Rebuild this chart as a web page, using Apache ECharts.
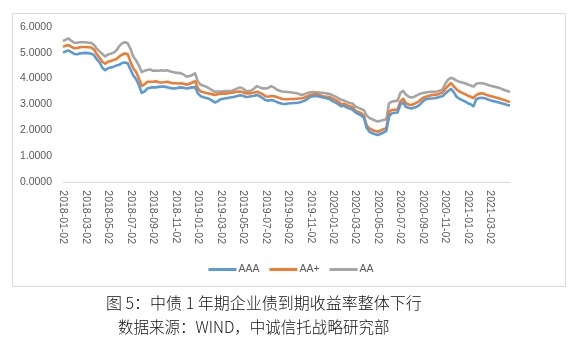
<!DOCTYPE html>
<html>
<head>
<meta charset="utf-8">
<script src="https://cdn.jsdelivr.net/npm/echarts@6/dist/echarts.min.js"></script>
<style>
html,body{margin:0;padding:0;background:#fff;}
#c{width:582px;height:356px;}
</style>
</head>
<body>
<div id="c"></div>
<script>
const categories = [
'2018-01-02','2018-01-09','2018-01-16','2018-01-23',
'2018-02-02','2018-02-09','2018-02-16','2018-02-23',
'2018-03-02','2018-03-09','2018-03-16','2018-03-23',
'2018-04-02','2018-04-09','2018-04-16','2018-04-23',
'2018-05-02','2018-05-09','2018-05-16','2018-05-23',
'2018-06-02','2018-06-09','2018-06-16','2018-06-23',
'2018-07-02','2018-07-09','2018-07-16','2018-07-23',
'2018-08-02','2018-08-09','2018-08-16','2018-08-23',
'2018-09-02','2018-09-09','2018-09-16','2018-09-23',
'2018-10-02','2018-10-09','2018-10-16','2018-10-23',
'2018-11-02','2018-11-09','2018-11-16','2018-11-23',
'2018-12-02','2018-12-09','2018-12-16','2018-12-23',
'2019-01-02','2019-01-09','2019-01-16','2019-01-23',
'2019-02-02','2019-02-09','2019-02-16','2019-02-23',
'2019-03-02','2019-03-09','2019-03-16','2019-03-23',
'2019-04-02','2019-04-09','2019-04-16','2019-04-23',
'2019-05-02','2019-05-09','2019-05-16','2019-05-23',
'2019-06-02','2019-06-09','2019-06-16','2019-06-23',
'2019-07-02','2019-07-09','2019-07-16','2019-07-23',
'2019-08-02','2019-08-09','2019-08-16','2019-08-23',
'2019-09-02','2019-09-09','2019-09-16','2019-09-23',
'2019-10-02','2019-10-09','2019-10-16','2019-10-23',
'2019-11-02','2019-11-09','2019-11-16','2019-11-23',
'2019-12-02','2019-12-09','2019-12-16','2019-12-23',
'2020-01-02','2020-01-09','2020-01-16','2020-01-23',
'2020-02-02','2020-02-09','2020-02-16','2020-02-23',
'2020-03-02','2020-03-09','2020-03-16','2020-03-23',
'2020-04-02','2020-04-09','2020-04-16','2020-04-23',
'2020-05-02','2020-05-09','2020-05-16','2020-05-23',
'2020-06-02','2020-06-09','2020-06-16','2020-06-23',
'2020-07-02','2020-07-09','2020-07-16','2020-07-23',
'2020-08-02','2020-08-09','2020-08-16','2020-08-23',
'2020-09-02','2020-09-09','2020-09-16','2020-09-23',
'2020-10-02','2020-10-09','2020-10-16','2020-10-23',
'2020-11-02','2020-11-09','2020-11-16','2020-11-23',
'2020-12-02','2020-12-09','2020-12-16','2020-12-23',
'2021-01-02','2021-01-09','2021-01-16','2021-01-23',
'2021-02-02','2021-02-09','2021-02-16','2021-02-23',
'2021-03-02','2021-03-09','2021-03-16','2021-03-23',
'2021-04-02','2021-04-09','2021-04-16','2021-04-20'
];

const seriesNames = ['AAA', 'AA+', 'AA'];

const AAA = [
5.00,5.05,5.08,5.02, 4.95,4.94,4.97,4.98, 4.99,4.98,4.96,4.90, 4.75,4.62,4.42,4.32,
4.40,4.43,4.46,4.50, 4.53,4.60,4.62,4.59, 4.35,4.12,3.98,3.75, 3.45,3.50,3.62,3.65,
3.66,3.66,3.68,3.69, 3.69,3.67,3.64,3.62, 3.62,3.65,3.66,3.64, 3.62,3.64,3.66,3.67,
3.43,3.32,3.28,3.25, 3.22,3.15,3.08,3.12, 3.20,3.22,3.24,3.26, 3.28,3.30,3.33,3.36,
3.34,3.29,3.30,3.32, 3.34,3.37,3.32,3.25, 3.17,3.15,3.17,3.15, 3.10,3.06,3.03,3.02,
3.04,3.05,3.06,3.06, 3.08,3.11,3.15,3.22, 3.30,3.32,3.33,3.31, 3.28,3.26,3.23,3.20,
3.12,3.07,3.00,2.93, 2.95,2.88,2.84,2.80, 2.70,2.64,2.58,2.50, 2.10,1.95,1.89,1.85,
1.82,1.87,1.92,1.98, 2.55,2.66,2.68,2.69, 3.00,3.08,2.90,2.87, 2.85,2.88,2.92,3.00,
3.12,3.20,3.22,3.23, 3.24,3.26,3.30,3.32, 3.42,3.52,3.60,3.48, 3.30,3.22,3.17,3.12,
3.05,3.01,2.93,3.20, 3.25,3.26,3.24,3.20, 3.16,3.13,3.11,3.08, 3.05,3.02,2.98,2.96
];

const AAplus = [
5.22,5.27,5.29,5.22, 5.17,5.18,5.21,5.22, 5.22,5.21,5.20,5.12, 4.95,4.80,4.65,4.57,
4.65,4.68,4.72,4.75, 4.85,4.92,4.97,4.95, 4.65,4.40,4.25,4.00, 3.72,3.78,3.88,3.88,
3.88,3.90,3.86,3.85, 3.86,3.88,3.85,3.82, 3.82,3.81,3.82,3.80, 3.76,3.80,3.85,3.90,
3.62,3.50,3.47,3.44, 3.42,3.40,3.37,3.40, 3.42,3.43,3.42,3.44, 3.45,3.47,3.49,3.50,
3.47,3.43,3.43,3.44, 3.46,3.49,3.45,3.40, 3.32,3.30,3.33,3.32, 3.29,3.25,3.21,3.20,
3.20,3.21,3.21,3.22, 3.23,3.24,3.27,3.32, 3.37,3.39,3.40,3.38, 3.33,3.31,3.30,3.28,
3.22,3.17,3.10,3.02, 3.03,2.97,2.93,2.90, 2.76,2.71,2.67,2.58, 2.20,2.08,2.02,1.98,
1.95,2.00,2.05,2.08, 2.72,2.79,2.80,2.81, 3.12,3.22,3.05,3.00, 2.98,3.03,3.08,3.16,
3.25,3.30,3.33,3.36, 3.37,3.38,3.42,3.45, 3.60,3.72,3.82,3.70, 3.58,3.50,3.45,3.40,
3.34,3.30,3.25,3.36, 3.42,3.43,3.40,3.36, 3.33,3.30,3.27,3.24, 3.20,3.17,3.13,3.10
];

const AA = [
5.45,5.50,5.55,5.45, 5.38,5.38,5.40,5.40, 5.40,5.38,5.38,5.30, 5.15,5.05,4.95,4.85,
4.93,4.96,5.00,5.08, 5.25,5.36,5.40,5.36, 5.15,4.85,4.70,4.50, 4.25,4.30,4.33,4.35,
4.30,4.31,4.30,4.32, 4.30,4.32,4.28,4.25, 4.23,4.22,4.20,4.15, 4.07,4.10,4.14,4.20,
3.88,3.76,3.72,3.68, 3.62,3.55,3.49,3.50, 3.50,3.51,3.52,3.52, 3.53,3.57,3.62,3.66,
3.62,3.53,3.52,3.54, 3.62,3.71,3.66,3.62, 3.62,3.64,3.71,3.66, 3.58,3.53,3.50,3.49,
3.48,3.47,3.45,3.44, 3.40,3.37,3.40,3.45, 3.47,3.48,3.47,3.46, 3.45,3.44,3.42,3.40,
3.35,3.30,3.24,3.18, 3.15,3.10,3.06,3.04, 2.92,2.88,2.83,2.78, 2.58,2.48,2.43,2.38,
2.34,2.37,2.40,2.43, 3.05,3.11,3.13,3.15, 3.45,3.53,3.38,3.30, 3.27,3.30,3.36,3.41,
3.44,3.46,3.48,3.49, 3.49,3.50,3.53,3.58, 3.80,3.96,4.03,3.99, 3.92,3.88,3.85,3.82,
3.77,3.73,3.69,3.80, 3.82,3.82,3.80,3.76, 3.72,3.70,3.67,3.65, 3.60,3.56,3.52,3.48
];

const yTicks = [0, 1, 2, 3, 4, 5, 6];
const captionTitle = '图 5：中债 1 年期企业债到期收益率整体下行';
const captionSource = '数据来源：WIND，中诚信托战略研究部';

const colors = ['#5B9BD5', '#ED7D31', '#A5A5A5'];
const seriesData = [AAA, AAplus, AA];

const chart = echarts.init(document.getElementById('c'), null, {renderer: 'canvas'});
const labelFont = 'Liberation Sans';

chart.setOption({
  animation: false,
  backgroundColor: '#ffffff',
  color: colors,
  grid: {left: 63, right: 72, top: 26.7, bottom: 173.7, containLabel: false},
  xAxis: {
    type: 'category',
    data: categories,
    boundaryGap: false,
    axisLine: {show: true, lineStyle: {color: '#d9d9d9', width: 1}},
    axisTick: {show: false},
    splitLine: {show: false},
    axisLabel: {
      rotate: -90,
      margin: 8,
      color: '#595959',
      fontSize: 10.5,
      fontFamily: labelFont,
      interval: function (index, value) {
        const parts = value.split('-');
        return parts[2] === '02' && (parseInt(parts[1], 10) % 2 === 1);
      }
    }
  },
  yAxis: {
    type: 'value',
    min: yTicks[0],
    max: yTicks[yTicks.length - 1],
    interval: 1,
    axisLine: {show: false},
    axisTick: {show: false},
    splitLine: {show: false},
    axisLabel: {
      margin: 11,
      color: '#595959',
      fontSize: 10.5,
      fontFamily: labelFont,
      formatter: function (v) { return v.toFixed(4); }
    }
  },
  legend: {
    data: seriesNames,
    left: 'center',
    top: 259,
    itemWidth: 28,
    itemHeight: 3,
    itemGap: 10,
    icon: 'rect',
    textStyle: {color: '#595959', fontSize: 10.5, fontFamily: labelFont, padding: [0, 0, 0, -3]}
  },
  series: seriesNames.map(function (name, i) {
    return {
      name: name,
      type: 'line',
      data: seriesData[i],
      symbol: 'none',
      showSymbol: false,
      lineStyle: {width: 2.6, color: colors[i], join: 'round'},
      itemStyle: {color: colors[i]},
      z: 3 - i
    };
  }),
  graphic: [
    {
      type: 'rect',
      shape: {x: 12.5, y: 13.5, width: 553, height: 273},
      style: {fill: 'none', stroke: '#d9d9d9', lineWidth: 1},
      silent: true
    },
    {
      type: 'text',
      left: 106,
      top: 295,
      style: {text: captionTitle, fill: '#111', font: '300 16px "Noto Sans CJK SC"'}
    },
    {
      type: 'text',
      left: 118,
      top: 319,
      style: {text: captionSource, fill: '#111', font: '300 15.5px "Noto Sans CJK SC"'}
    }
  ]
});
</script>
</body>
</html>
